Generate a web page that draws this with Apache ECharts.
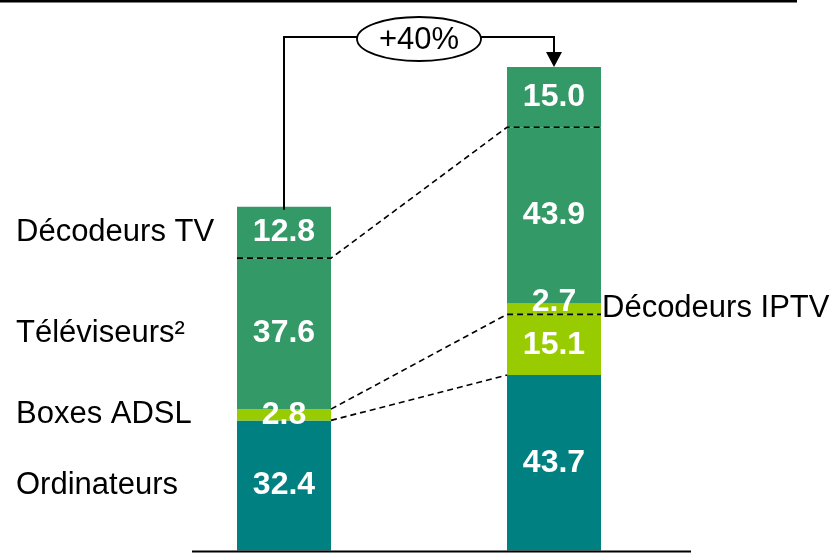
<!DOCTYPE html>
<html>
<head>
<meta charset="utf-8">
<script src="https://cdn.jsdelivr.net/npm/echarts@6/dist/echarts.min.js"></script>
<style>
  html, body { margin: 0; padding: 0; background: #fff; }
  #chart { width: 837px; height: 556px; }
</style>
</head>
<body>
<div id="chart"></div>
<script>
// Two stacked columns of device counts, before and after
const categories = ['Situation initiale', 'Situation finale'];
const segmentNames = ['Ordinateurs', 'Boxes ADSL', 'Décodeurs IPTV', 'Téléviseurs²', 'Décodeurs TV'];
const ordinateurs = [32.4, 43.7];
const boxesAdsl = [2.8, 15.1];
const decodeursIptv = [null, 2.7];
const televiseurs = [37.6, 43.9];
const decodeursTv = [12.8, 15.0];
const growthLabel = '+40%';

const segmentValues = [ordinateurs, boxesAdsl, decodeursIptv, televiseurs, decodeursTv];
const segmentColors = ['#008080', '#99CC00', '#99CC00', '#339966', '#339966'];
const FONT = "'Liberation Sans', Arial, sans-serif";
const BAR_W = 94;

// cumulative tops of each segment per column
function cumulative(col) {
  const out = [];
  let s = 0;
  segmentValues.forEach(arr => { s += (arr[col] || 0); out.push(s); });
  return out;
}
const cumL = cumulative(0);
const cumR = cumulative(1);

const barSeries = segmentNames.map((name, k) => ({
  name: name,
  type: 'bar',
  stack: 'total',
  barWidth: BAR_W,
  itemStyle: { color: segmentColors[k] },
  label: {
    show: true,
    position: 'inside',
    // the thin IPTV slice sits on a dashed separator: keep its number above it
    offset: k === 2 ? [0, -7] : [0, 0],
    color: '#fff',
    fontFamily: FONT,
    fontWeight: 'bold',
    fontSize: 32,
    formatter: p => (p.value == null ? '' : Number(p.value).toFixed(1))
  },
  data: segmentValues[k].map(v => (v == null ? '-' : v))
}));

function renderOverlay(params, api) {
  const half = BAR_W / 2;
  const x0 = api.coord([0, 0])[0];
  const x1 = api.coord([1, 0])[0];
  const y = v => api.coord([0, v])[1];
  const baseY = y(0);
  const solid = { stroke: '#000', lineWidth: 2, fill: null };
  const dash = { stroke: '#000', lineWidth: 1.6, lineDash: [6, 4], fill: null };
  const kids = [];

  // baseline
  kids.push({ type: 'line', shape: { x1: x0 - 92, y1: baseY + 1, x2: x1 + 137, y2: baseY + 1 },
    style: { stroke: '#000', lineWidth: 2 } });

  // dashed separators inside columns and connectors between them
  const iTele = 3, iAdsl = 1, iOrd = 0;
  kids.push({ type: 'polyline', shape: { points: [
    [x0 - half, y(cumL[iTele])], [x0 + half, y(cumL[iTele])], [x1 - half, y(cumR[iTele])], [x1 + half, y(cumR[iTele])]
  ] }, style: dash });
  kids.push({ type: 'polyline', shape: { points: [
    [x0 + half, y(cumL[iAdsl])], [x1 - half, y(cumR[iAdsl])], [x1 + half, y(cumR[iAdsl])]
  ] }, style: dash });
  kids.push({ type: 'line', shape: {
    x1: x0 + half, y1: y(cumL[iOrd]), x2: x1 - half, y2: y(cumR[iOrd])
  }, style: dash });

  // segment names beside the columns
  segmentNames.forEach((name, k) => {
    const col = segmentValues[k][0] != null ? 0 : 1;
    const cum = col === 0 ? cumL : cumR;
    const lo = k === 0 ? 0 : cum[k - 1];
    const mid = (lo + cum[k]) / 2;
    const tx = col === 0 ? x0 - 268 : x1 + half + 1;
    kids.push({ type: 'text', x: tx, y: y(mid), style: {
      text: name, fill: '#000', font: '31px ' + FONT, textAlign: 'left', textVerticalAlign: 'middle'
    } });
  });

  // growth bracket with ellipse and arrow
  const topY = 37;
  const cx = (x0 + x1) / 2;
  const rx = 62, ry = 22;
  const topL = y(cumL[cumL.length - 1]);
  const topR = y(cumR[cumR.length - 1]);
  kids.push({ type: 'polyline', shape: { points: [[x0, topL + 3], [x0, topY], [cx - rx, topY]] }, style: solid });
  kids.push({ type: 'polyline', shape: { points: [[cx + rx, topY], [x1, topY], [x1, topR - 14]] }, style: solid });
  kids.push({ type: 'polygon', shape: { points: [[x1 - 8, topR - 15], [x1 + 8, topR - 15], [x1, topR]] },
    style: { fill: '#000' } });
  kids.push({ type: 'ellipse', shape: { cx: cx, cy: topY + 2, rx: rx, ry: ry },
    style: { fill: '#fff', stroke: '#000', lineWidth: 1.8 } });
  kids.push({ type: 'text', x: cx, y: topY + 3, style: {
    text: growthLabel, fill: '#000', font: '31px ' + FONT, textAlign: 'center', textVerticalAlign: 'middle'
  } });

  return { type: 'group', children: kids };
}

const chart = echarts.init(document.getElementById('chart'));
chart.setOption({
  animation: false,
  backgroundColor: '#fff',
  grid: { left: 149, right: 148, top: 28.45, bottom: 5.5 },
  xAxis: {
    type: 'category',
    data: categories,
    axisLine: { show: false },
    axisTick: { show: false },
    axisLabel: { show: false }
  },
  yAxis: { type: 'value', min: 0, max: 130, show: false },
  graphic: [
    { type: 'rect', shape: { x: 0, y: 0, width: 797, height: 2.5 }, style: { fill: '#000' } }
  ],
  series: barSeries.concat([
    { type: 'custom', z: 10, silent: true, data: [[0, 0]], renderItem: renderOverlay }
  ])
});
</script>
</body>
</html>
